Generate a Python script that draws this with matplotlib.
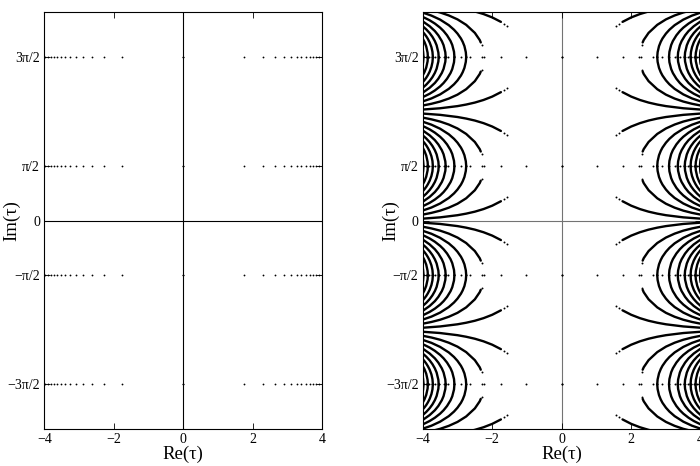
import numpy as np
import matplotlib
matplotlib.use("Agg")
import matplotlib.pyplot as plt

plt.rcParams['font.family'] = ['Liberation Serif', 'DejaVu Serif']
plt.rcParams['mathtext.fontset'] = 'stix'

# rows of roots at Im = +-pi/2, +-3pi/2
row_y = [-3 * np.pi / 2, -np.pi / 2, np.pi / 2, 3 * np.pi / 2]

# |Re| of the dots on each row, left panel
left_dots = [0.0, 1.76, 2.29, 2.63, 2.89, 3.09, 3.26, 3.40, 3.53,
             3.64, 3.73, 3.82, 3.90, 3.98]
# |Re| of the dots on each row, right panel
right_dots = [0.0, 1.02, 1.76, 2.23, 2.29, 2.63, 2.75, 2.89, 3.09,
              3.26, 3.34, 3.40, 3.53, 3.54, 3.64, 3.71, 3.73, 3.82,
              3.85, 3.90, 3.98]

# arcs of the right panel: |Re| and offset from the row (one branch)
arc1_x = [1.75, 2.0, 2.25, 2.5, 2.75, 3.0, 3.5, 4.0]
arc1_d = [1.012, 1.140, 1.237, 1.312, 1.369, 1.414, 1.476, 1.513]
arc2_x = [2.33, 2.36, 2.5, 2.75, 3.0, 3.25, 3.5, 3.75, 4.0]
arc2_d = [0.42, 0.49, 0.695, 0.927, 1.084, 1.197, 1.283, 1.347, 1.397]
arc3_x = [2.749, 2.76, 2.8, 2.85, 2.9, 3.0, 3.1, 3.25, 3.5, 3.75, 4.0]
arc3_d = [0.0, 0.139, 0.313, 0.438, 0.533, 0.675, 0.786, 0.917, 1.077, 1.193, 1.279]
arc4_x = [3.088, 3.1, 3.15, 3.2, 3.3, 3.4, 3.5, 3.65, 3.8, 4.0]
arc4_d = [0.0, 0.151, 0.346, 0.462, 0.625, 0.748, 0.846, 0.963, 1.057, 1.156]
arc5_x = [3.34, 3.35, 3.4, 3.45, 3.55, 3.65, 3.8, 4.0]
arc5_d = [0.0, 0.136, 0.340, 0.458, 0.623, 0.747, 0.886, 1.027]
arc6_x = [3.541, 3.55, 3.6, 3.65, 3.72, 3.8, 3.9, 4.0]
arc6_d = [0.0, 0.128, 0.337, 0.456, 0.579, 0.688, 0.797, 0.886]
arc7_x = [3.708, 3.72, 3.75, 3.8, 3.85, 3.9, 3.95, 4.0]
arc7_d = [0.0, 0.148, 0.284, 0.420, 0.518, 0.599, 0.666, 0.725]
arc8_x = [3.852, 3.86, 3.9, 3.95, 4.0]
arc8_d = [0.0, 0.123, 0.306, 0.435, 0.529]
arc9_x = [3.977, 3.99, 4.0]
arc9_d = [0.0, 0.157, 0.211]

# loose dots where the outer arcs break off
loose_x = [1.57, 1.65, 2.30]
loose_d = [0.89, 0.95, 0.36]

arcs = [(arc1_x, arc1_d), (arc2_x, arc2_d), (arc3_x, arc3_d),
        (arc4_x, arc4_d), (arc5_x, arc5_d), (arc6_x, arc6_d),
        (arc7_x, arc7_d), (arc8_x, arc8_d), (arc9_x, arc9_d)]

yticks = [-3 * np.pi / 2, -np.pi / 2, 0, np.pi / 2, 3 * np.pi / 2]
yticklabels = ['\u22123\u03c0/2', '\u2212\u03c0/2', '0', '\u03c0/2', '3\u03c0/2']
xticks = [-4, -2, 0, 2, 4]
xticklabels = ['\u22124', '\u22122', '0', '2', '4']

fig = plt.figure(figsize=(7, 4.66), dpi=100)
ax1 = fig.add_axes([0.0633, 0.0794, 0.3971, 0.8942])
ax2 = fig.add_axes([0.6039, 0.0794, 0.3971, 0.8942])


def style(ax, zero_color):
    ax.axhline(0, color=zero_color, lw=0.8, zorder=1)
    ax.axvline(0, color=zero_color, lw=0.8, zorder=1)
    ax.set_xlim(-4, 4)
    ax.set_ylim(-6, 6)
    ax.set_xticks(xticks)
    ax.set_xticklabels(xticklabels)
    ax.set_yticks(yticks)
    ax.set_yticklabels(yticklabels)
    ax.tick_params(direction='in', top=True, right=True, length=4,
                   width=0.6, labelsize=10, pad=3)
    for s in ax.spines.values():
        s.set_linewidth(0.8)
    ax.set_xlabel('Re(\u03c4)', fontsize=13.5, labelpad=0)
    ax.set_ylabel('Im(\u03c4)', fontsize=13.5)
    ax.yaxis.set_label_coords(-0.085, 0.5)


style(ax1, 'black')
style(ax2, '0.45')

for yc in row_y:
    xs = np.concatenate([-np.array(left_dots), left_dots])
    ax1.plot(xs, np.full(len(xs), yc), 'k.', ms=2.6, mec='none')
    xs = np.concatenate([-np.array(right_dots), right_dots])
    ax2.plot(xs, np.full(len(xs), yc), 'k.', ms=2.8, mec='none')
    for sx in (-1, 1):
        for sd in (-1, 1):
            for ax_, ad_ in arcs:
                ax2.plot(sx * np.array(ax_), yc + sd * np.array(ad_),
                         'k-', lw=1.7, solid_capstyle='round')
            ax2.plot(sx * np.array(loose_x), yc + sd * np.array(loose_d),
                     'k.', ms=2.8, mec='none')

fig.savefig('out.png', dpi=100)
